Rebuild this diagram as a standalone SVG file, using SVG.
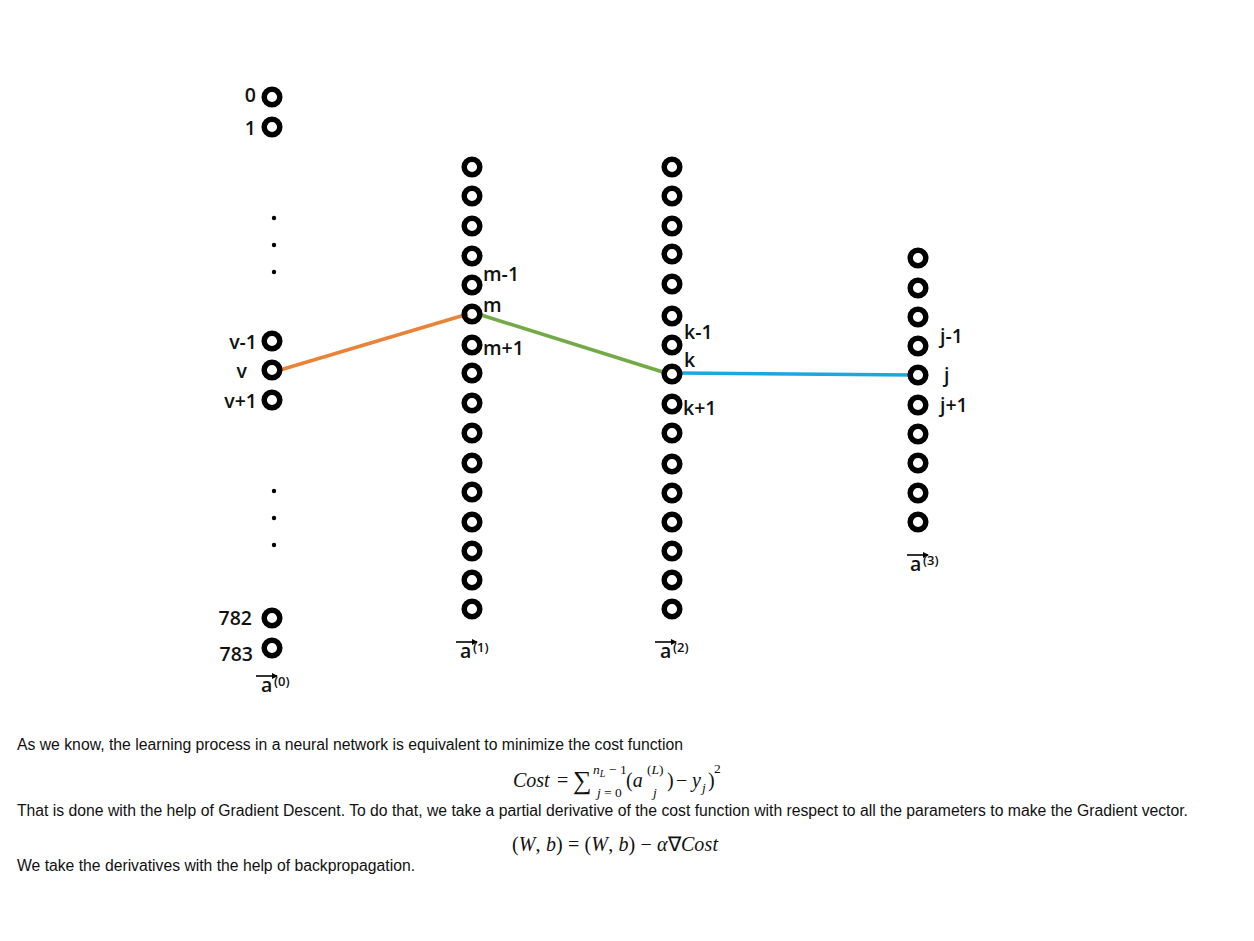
<svg xmlns="http://www.w3.org/2000/svg" width="1254" height="941" viewBox="0 0 1254 941">
<style>
.n{fill:none;stroke:#000;stroke-width:5.5}
.lb{font-family:"Open Sans","Liberation Sans",sans-serif;font-weight:600;font-size:19.5px;fill:#111}
.dot{fill:#000}
.tx{font-family:"Liberation Sans",Arial,sans-serif;font-size:16px;fill:#111}
.m{font-family:"Liberation Serif","Times New Roman",serif;font-size:20px;fill:#111}
.mi{font-style:italic}
.sm{font-size:13.5px}
.lb.sm{font-size:13px}
.ar{stroke:#000;stroke-width:1.6}
</style>
<defs>
<marker id="ah" markerWidth="6" markerHeight="6" refX="5" refY="3" orient="auto" markerUnits="userSpaceOnUse"><path d="M0,0 L6,3 L0,6 z" fill="#000"/></marker>
<circle id="c" r="7.8" class="n"/>
</defs>
<rect width="1254" height="941" fill="#fff"/>
<g id="connectors">
<line x1="280" y1="370" x2="468" y2="314" stroke="#ea8237" stroke-width="3.5"/>
<line x1="478" y1="314" x2="666" y2="373" stroke="#72ab45" stroke-width="3.5"/>
<line x1="678" y1="373" x2="913" y2="375" stroke="#1aa8de" stroke-width="3.5"/>
</g>
<g id="layer0">
<use href="#c" x="272" y="97"/><use href="#c" x="272" y="127"/>
<use href="#c" x="272" y="341"/><use href="#c" x="272" y="370"/><use href="#c" x="272" y="400"/>
<use href="#c" x="272" y="618"/><use href="#c" x="272" y="648"/>
<circle class="dot" cx="274" cy="218" r="2.2"/><circle class="dot" cx="274" cy="245" r="2.2"/><circle class="dot" cx="274" cy="272" r="2.2"/>
<circle class="dot" cx="274" cy="491" r="2.2"/><circle class="dot" cx="274" cy="518" r="2.2"/><circle class="dot" cx="274" cy="545" r="2.2"/>
<text class="lb" x="256" y="102" text-anchor="end">0</text>
<text class="lb" x="256" y="135" text-anchor="end">1</text>
<text class="lb" x="257" y="349" text-anchor="end">v-1</text>
<text class="lb" x="247" y="378" text-anchor="end">v</text>
<text class="lb" x="257" y="408" text-anchor="end">v+1</text>
<text class="lb" x="252" y="625" text-anchor="end">782</text>
<text class="lb" x="253" y="661" text-anchor="end">783</text>
<line class="ar" x1="256" y1="676" x2="277" y2="676" marker-end="url(#ah)"/>
<text class="lb" x="261" y="692">a</text>
<text class="lb sm" x="274" y="686">(0)</text>
</g>
<g id="layer1">
<use href="#c" x="472" y="167"/><use href="#c" x="472" y="196"/><use href="#c" x="472" y="226"/><use href="#c" x="472" y="256"/>
<use href="#c" x="472" y="285"/><use href="#c" x="472" y="314"/><use href="#c" x="472" y="345"/><use href="#c" x="472" y="373"/>
<use href="#c" x="472" y="403"/><use href="#c" x="472" y="433"/><use href="#c" x="472" y="463"/><use href="#c" x="472" y="492"/>
<use href="#c" x="472" y="522"/><use href="#c" x="472" y="551"/><use href="#c" x="472" y="580"/><use href="#c" x="472" y="609"/>
<text class="lb" x="483" y="281">m-1</text>
<text class="lb" x="483" y="312">m</text>
<text class="lb" x="483" y="355">m+1</text>
<line class="ar" x1="456" y1="642" x2="477" y2="642" marker-end="url(#ah)"/>
<text class="lb" x="460" y="658">a</text>
<text class="lb sm" x="473" y="652">(1)</text>
</g>
<g id="layer2">
<use href="#c" x="672" y="167"/><use href="#c" x="672" y="196"/><use href="#c" x="672" y="226"/><use href="#c" x="672" y="254"/>
<use href="#c" x="672" y="284"/><use href="#c" x="672" y="316"/><use href="#c" x="672" y="345"/><use href="#c" x="672" y="374"/>
<use href="#c" x="672" y="404"/><use href="#c" x="672" y="433"/><use href="#c" x="672" y="464"/><use href="#c" x="672" y="493"/>
<use href="#c" x="672" y="522"/><use href="#c" x="672" y="551"/><use href="#c" x="672" y="580"/><use href="#c" x="672" y="609"/>
<text class="lb" x="684" y="339">k-1</text>
<text class="lb" x="684" y="367">k</text>
<text class="lb" x="683" y="415">k+1</text>
<line class="ar" x1="655" y1="642" x2="676" y2="642" marker-end="url(#ah)"/>
<text class="lb" x="660" y="658">a</text>
<text class="lb sm" x="673" y="652">(2)</text>
</g>
<g id="layer3">
<use href="#c" x="918" y="258"/><use href="#c" x="918" y="288"/><use href="#c" x="918" y="317"/><use href="#c" x="918" y="346"/>
<use href="#c" x="918" y="375"/><use href="#c" x="918" y="405"/><use href="#c" x="918" y="434"/><use href="#c" x="918" y="463"/>
<use href="#c" x="918" y="493"/><use href="#c" x="918" y="522"/>
<text class="lb" x="940" y="343">j-1</text>
<text class="lb" x="944" y="382">j</text>
<text class="lb" x="940" y="412">j+1</text>
<line class="ar" x1="907" y1="555" x2="928" y2="555" marker-end="url(#ah)"/>
<text class="lb" x="910" y="571">a</text>
<text class="lb sm" x="923" y="565">(3)</text>
</g>
<g id="text">
<text class="tx" x="17" y="750" textLength="666" lengthAdjust="spacingAndGlyphs">As we know, the learning process in a neural network is equivalent to minimize the cost function</text>
<text class="tx" x="17" y="816" textLength="1171" lengthAdjust="spacingAndGlyphs">That is done with the help of Gradient Descent. To do that, we take a partial derivative of the cost function with respect to all the parameters to make the Gradient vector.</text>
<text class="tx" x="17" y="871" textLength="398" lengthAdjust="spacingAndGlyphs">We take the derivatives with the help of backpropagation.</text>
<g class="m">
<text class="mi" x="513" y="787">Cost</text>
<text x="557" y="787">=</text>
<text x="573" y="789" font-size="26">∑</text>
<text class="sm" y="774"><tspan class="mi" x="593">n</tspan><tspan class="mi" font-size="10" dy="3">L</tspan><tspan dy="-3" x="609">− 1</tspan></text>
<text class="sm" y="797"><tspan class="mi" x="597">j</tspan><tspan x="604">= 0</tspan></text>
<text x="626" y="787">(<tspan class="mi">a</tspan></text>
<text class="sm" x="647" y="774">(<tspan class="mi">L</tspan>)</text>
<text class="sm mi" x="653" y="797">j</text>
<text x="667" y="787">)</text>
<text x="676" y="787">−</text>
<text class="mi" x="692" y="787">y</text>
<text class="sm mi" x="702" y="792">j</text>
<text x="708" y="787">)</text>
<text class="sm" x="714" y="773">2</text>
<text x="512" y="851" textLength="206" lengthAdjust="spacing">(<tspan class="mi">W</tspan>, <tspan class="mi">b</tspan>) = (<tspan class="mi">W</tspan>, <tspan class="mi">b</tspan>) − <tspan class="mi">α</tspan>∇<tspan class="mi">Cost</tspan></text>
</g>
</g>
</svg>
